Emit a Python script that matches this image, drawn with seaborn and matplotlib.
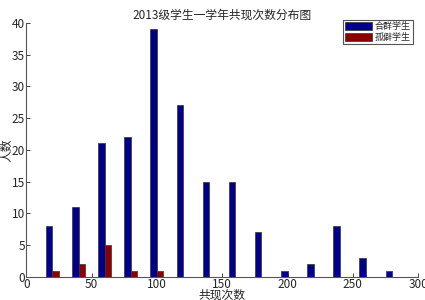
import seaborn as sns
import pandas as pd
import matplotlib.pyplot as plt

# co-occurrence bins and student counts
bins = [20, 40, 60, 80, 100, 120, 140, 160, 180, 200, 220, 240, 260, 280]
social_counts = [8, 11, 21, 22, 39, 27, 15, 15, 7, 1, 2, 8, 3, 1]
lonely_bins = [20, 40, 60, 80, 100]
lonely_counts = [1, 2, 5, 1, 1]
group_names = ['合群学生', '孤僻学生']

'''DATA'''
df = pd.concat([
    pd.DataFrame({'bin': bins, 'count': social_counts, 'group': group_names[0]}),
    pd.DataFrame({'bin': lonely_bins, 'count': lonely_counts, 'group': group_names[1]}),
], ignore_index=True)

'''PLOTTING'''
sns.set_style('ticks')
plt.rcParams['font.family'] = ['Noto Sans CJK SC', 'DejaVu Sans']
plt.rcParams['axes.unicode_minus'] = False

fig = plt.figure(figsize=(4.25, 3), dpi=100)
ax = fig.add_axes([0.062, 0.077, 0.922, 0.847])

sns.barplot(data=df, x='bin', y='count', hue='group', hue_order=group_names,
            palette=['#00008b', '#8b0000'], native_scale=True, width=0.5,
            saturation=1, edgecolor='#333333', linewidth=0.5, ax=ax)

ax.set_xlim(0, 300)
ax.set_ylim(0, 40)
ax.set_xticks(range(0, 301, 50))
ax.set_yticks(range(0, 41, 5))
ax.tick_params(labelsize=8.5, length=3, width=0.6, pad=1, direction='in')
sns.despine(ax=ax)
for s in ax.spines.values():
    s.set_linewidth(0.8)
    s.set_color('#555555')

ax.set_title('2013级学生一学年共现次数分布图', fontsize=8.5, pad=3)
ax.set_xlabel('共现次数', fontsize=8.5, labelpad=-2)
ax.set_ylabel('人数', fontsize=8.5, labelpad=-1)

leg = ax.legend(loc='upper right', fontsize=6.5, fancybox=False, framealpha=1,
                edgecolor='#555555', handlelength=3.0, handleheight=1.0,
                borderpad=0.25, labelspacing=0.15, handletextpad=0.3,
                borderaxespad=0, bbox_to_anchor=(0.987, 1.011))
leg.get_frame().set_linewidth(0.8)

plt.savefig('out.png', dpi=100)
